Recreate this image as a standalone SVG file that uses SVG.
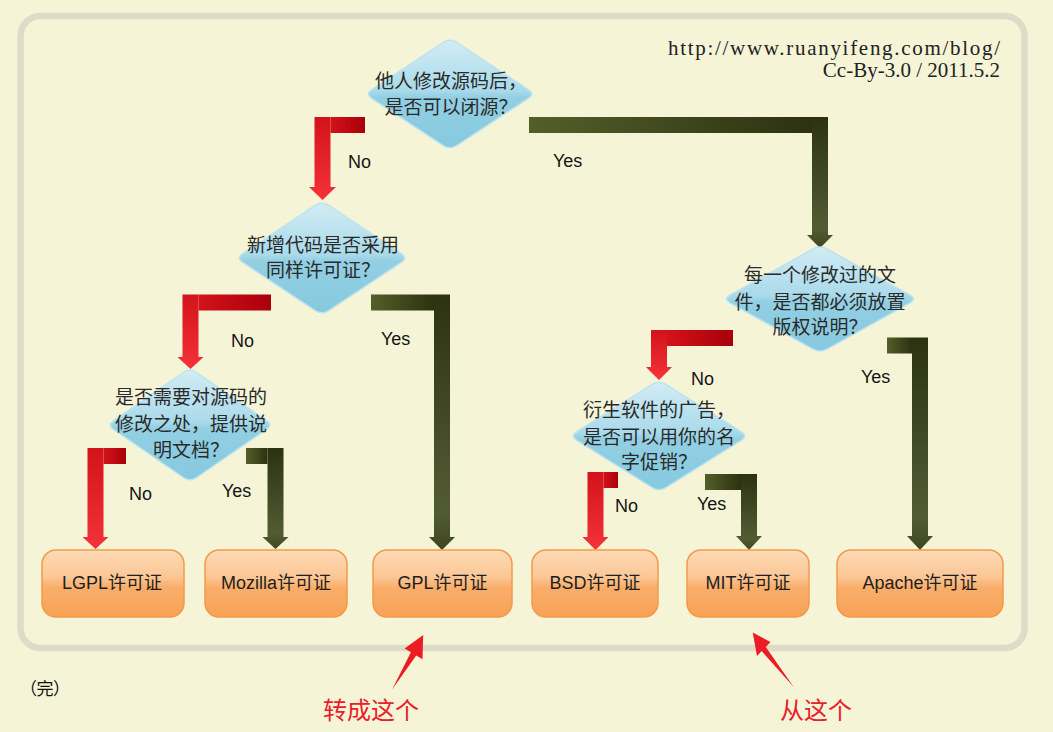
<svg xmlns="http://www.w3.org/2000/svg" width="1053" height="732" viewBox="0 0 1053 732">
<defs>
<linearGradient id="dia" x1="0" y1="0" x2="0" y2="1">
<stop offset="0" stop-color="#D2ECF4"/><stop offset="0.47" stop-color="#A9DAEA"/><stop offset="0.53" stop-color="#92CFE3"/><stop offset="1" stop-color="#86C9DF"/>
</linearGradient>
<linearGradient id="box" x1="0" y1="0" x2="0" y2="1">
<stop offset="0" stop-color="#FDDBB6"/><stop offset="0.4" stop-color="#FCC796"/><stop offset="0.56" stop-color="#F9AE6A"/><stop offset="1" stop-color="#F7A256"/>
</linearGradient>
<linearGradient id="redH" x1="0" y1="0" x2="1" y2="0">
<stop offset="0" stop-color="#D41219"/><stop offset="1" stop-color="#A8000C"/>
</linearGradient>
<linearGradient id="redV" x1="0" y1="0" x2="0" y2="1">
<stop offset="0" stop-color="#D41219"/><stop offset="1" stop-color="#F3323A"/>
</linearGradient>
<linearGradient id="olvH" x1="0" y1="0" x2="1" y2="0">
<stop offset="0" stop-color="#545E2A"/><stop offset="1" stop-color="#2C3210"/>
</linearGradient>
<linearGradient id="olvV" x1="0" y1="0" x2="0" y2="1">
<stop offset="0" stop-color="#2C3210"/><stop offset="0.85" stop-color="#525C34"/><stop offset="1" stop-color="#3E4620"/>
</linearGradient>
</defs>
<style>
.dia{fill:url(#dia);stroke:#BDE3EF;stroke-width:1.5}
.box{fill:url(#box);stroke:#F39A4A;stroke-width:1.5}
.dt{font-family:"Noto Sans CJK SC","Noto Sans",sans-serif;font-size:19px;fill:#2A2A2A;text-anchor:middle}
.bt{font-family:"Liberation Sans","Noto Sans CJK SC",sans-serif;font-size:18px;fill:#1E1E1E;text-anchor:middle}
.lb{font-family:"Liberation Sans",Arial,sans-serif;font-size:18px;fill:#151515}
.url{font-family:"Liberation Serif",serif;font-size:21px;fill:#222;text-anchor:end}
.rH{fill:url(#redH)}
.rV{fill:url(#redV)}
.oH{fill:url(#olvH)}
.oV{fill:url(#olvV)}
.note{font-family:"Noto Sans CJK SC",sans-serif;font-size:24px;fill:#E8202A}
</style>
<rect x="0" y="0" width="1053" height="732" fill="#F5F4D6"/>
<rect x="20.5" y="16" width="1004" height="632" rx="20" fill="#F5F4D6" stroke="#DEDCC9" stroke-width="6.5"/>
<text class="url" x="1000" y="55" textLength="332">http://www.ruanyifeng.com/blog/</text>
<text class="url" x="1000" y="77">Cc-By-3.0 / 2011.5.2</text>

<g id="connectors">
<g id="a1"><rect class="rH" x="330.5" y="117" width="34.5" height="16"/><path class="rV" d="M314.5,117 H330.5 V187 H336 L322.5,200 L309,187 H314.5 Z"/></g>
<g id="a2"><rect class="oH" x="529" y="117" width="283" height="16"/><path class="oV" d="M812,117 H828 V235 H833 L820,248 L807,235 H812 Z"/></g>
<g id="a3"><rect class="rH" x="198.5" y="294.5" width="72.5" height="16"/><path class="rV" d="M182.5,294.5 H198.5 V357 H203.5 L190.5,369 L177.5,357 H182.5 Z"/></g>
<g id="a4"><rect class="oH" x="371" y="294.5" width="63" height="16"/><path class="oV" d="M434,294.5 H450 V537 H455 L442,550 L429,537 H434 Z"/></g>
<g id="a5"><rect class="rH" x="103.5" y="448" width="22.5" height="16"/><path class="rV" d="M87.5,448 H103.5 V537 H108.5 L95.5,549 L82.5,537 H87.5 Z"/></g>
<g id="a6"><rect class="oH" x="246" y="448" width="21.5" height="16"/><path class="oV" d="M267.5,448 H283.5 V537 H288.5 L275.5,549 L262.5,537 H267.5 Z"/></g>
<g id="a7"><rect class="rH" x="667" y="330" width="66" height="16"/><path class="rV" d="M651,330 H667 V367 H672 L659,380 L646,367 H651 Z"/></g>
<g id="a8"><rect class="oH" x="887" y="337.5" width="25" height="16"/><path class="oV" d="M912,337.5 H928 V536 H933 L920,550 L907,536 H912 Z"/></g>
<g id="a9"><rect class="rH" x="603.5" y="472" width="14.5" height="16"/><path class="rV" d="M587.5,472 H603.5 V537 H608.5 L595.5,550 L582.5,537 H587.5 Z"/></g>
<g id="a10"><rect class="oH" x="705" y="474" width="36" height="16"/><path class="oV" d="M741,474 H757 V536 H762 L749,550 L736,536 H741 Z"/></g>
<text class="lb" x="348" y="168">No</text>
<text class="lb" x="553" y="167">Yes</text>
<text class="lb" x="231" y="347">No</text>
<text class="lb" x="381" y="345">Yes</text>
<text class="lb" x="129" y="500">No</text>
<text class="lb" x="222" y="497">Yes</text>
<text class="lb" x="691" y="385">No</text>
<text class="lb" x="861" y="383">Yes</text>
<text class="lb" x="615" y="512">No</text>
<text class="lb" x="697" y="510">Yes</text>
</g>

<g id="d1"><path class="dia" d="M443.3,42.4 Q450,38 456.7,42.4 L528.3,89.6 Q535,94 528.3,98.4 L456.7,145.6 Q450,150 443.3,145.6 L371.7,98.4 Q365,94 371.7,89.6 Z"/>
<text class="dt" x="451" y="88">他人修改源码后，</text><text class="dt" x="451" y="114">是否可以闭源？</text></g>
<g id="d2"><path class="dia" d="M315.3,205.4 Q322,201 328.7,205.4 L401.3,253.6 Q408,258 401.3,262.4 L328.7,310.6 Q322,315 315.3,310.6 L242.7,262.4 Q236,258 242.7,253.6 Z"/>
<text class="dt" x="323" y="252">新增代码是否采用</text><text class="dt" x="323" y="277">同样许可证？</text></g>
<g id="d3"><path class="dia" d="M183.4,372.5 Q190,368 196.6,372.5 L266.4,420.5 Q273,425 266.4,429.5 L196.6,477.5 Q190,482 183.4,477.5 L113.6,429.5 Q107,425 113.6,420.5 Z"/>
<text class="dt" x="191" y="404">是否需要对源码的</text><text class="dt" x="191" y="431">修改之处，提供说</text><text class="dt" x="191" y="457">明文档？</text></g>
<g id="d4"><path class="dia" d="M813,248.9 Q820,245 827,248.9 L910,295.1 Q917,299 910,302.9 L827,349.1 Q820,353 813,349.1 L730,302.9 Q723,299 730,295.1 Z"/>
<text class="dt" x="820" y="282">每一个修改过的文</text><text class="dt" x="820" y="309">件，是否都必须放置</text><text class="dt" x="820" y="334">版权说明？</text></g>
<g id="d5"><path class="dia" d="M652.2,384.3 Q659,380 665.8,384.3 L741.2,431.7 Q748,436 741.2,440.3 L665.8,487.7 Q659,492 652.2,487.7 L576.8,440.3 Q570,436 576.8,431.7 Z"/>
<text class="dt" x="659" y="417">衍生软件的广告，</text><text class="dt" x="659" y="444">是否可以用你的名</text><text class="dt" x="659" y="469">字促销？</text></g>

<g id="lgpl"><rect class="box" x="42" y="550" width="142" height="67" rx="14"/><text class="bt" x="112" y="589">LGPL许可证</text></g>
<g id="mozilla"><rect class="box" x="205" y="550" width="142" height="67" rx="14"/><text class="bt" x="276" y="589">Mozilla许可证</text></g>
<g id="gpl"><rect class="box" x="373" y="550" width="139" height="67" rx="14"/><text class="bt" x="442.5" y="589">GPL许可证</text></g>
<g id="bsd"><rect class="box" x="532" y="550" width="126" height="67" rx="14"/><text class="bt" x="595" y="589">BSD许可证</text></g>
<g id="mit"><rect class="box" x="687" y="550" width="122" height="67" rx="14"/><text class="bt" x="748" y="589">MIT许可证</text></g>
<g id="apache"><rect class="box" x="837" y="550" width="166" height="67" rx="14"/><text class="bt" x="920" y="589">Apache许可证</text></g>

<text x="20" y="695" font-family="Noto Sans CJK SC, sans-serif" font-size="17" fill="#111" textLength="50">（完）</text>
<g id="notes">
<path fill="#EC1C24" d="M423.2,635 L404.6,648.6 L410.9,652.3 L392.1,689.6 L416.2,655.6 L422.5,659.3 Z"/>
<path fill="#EC1C24" d="M752.7,632.5 L757,656 L761.7,651.1 L793.7,687 L765.8,646.9 L770.5,642 Z"/>
<text class="note" x="323" y="719">转成这个</text>
<text class="note" x="780" y="719">从这个</text>
</g>
</svg>
